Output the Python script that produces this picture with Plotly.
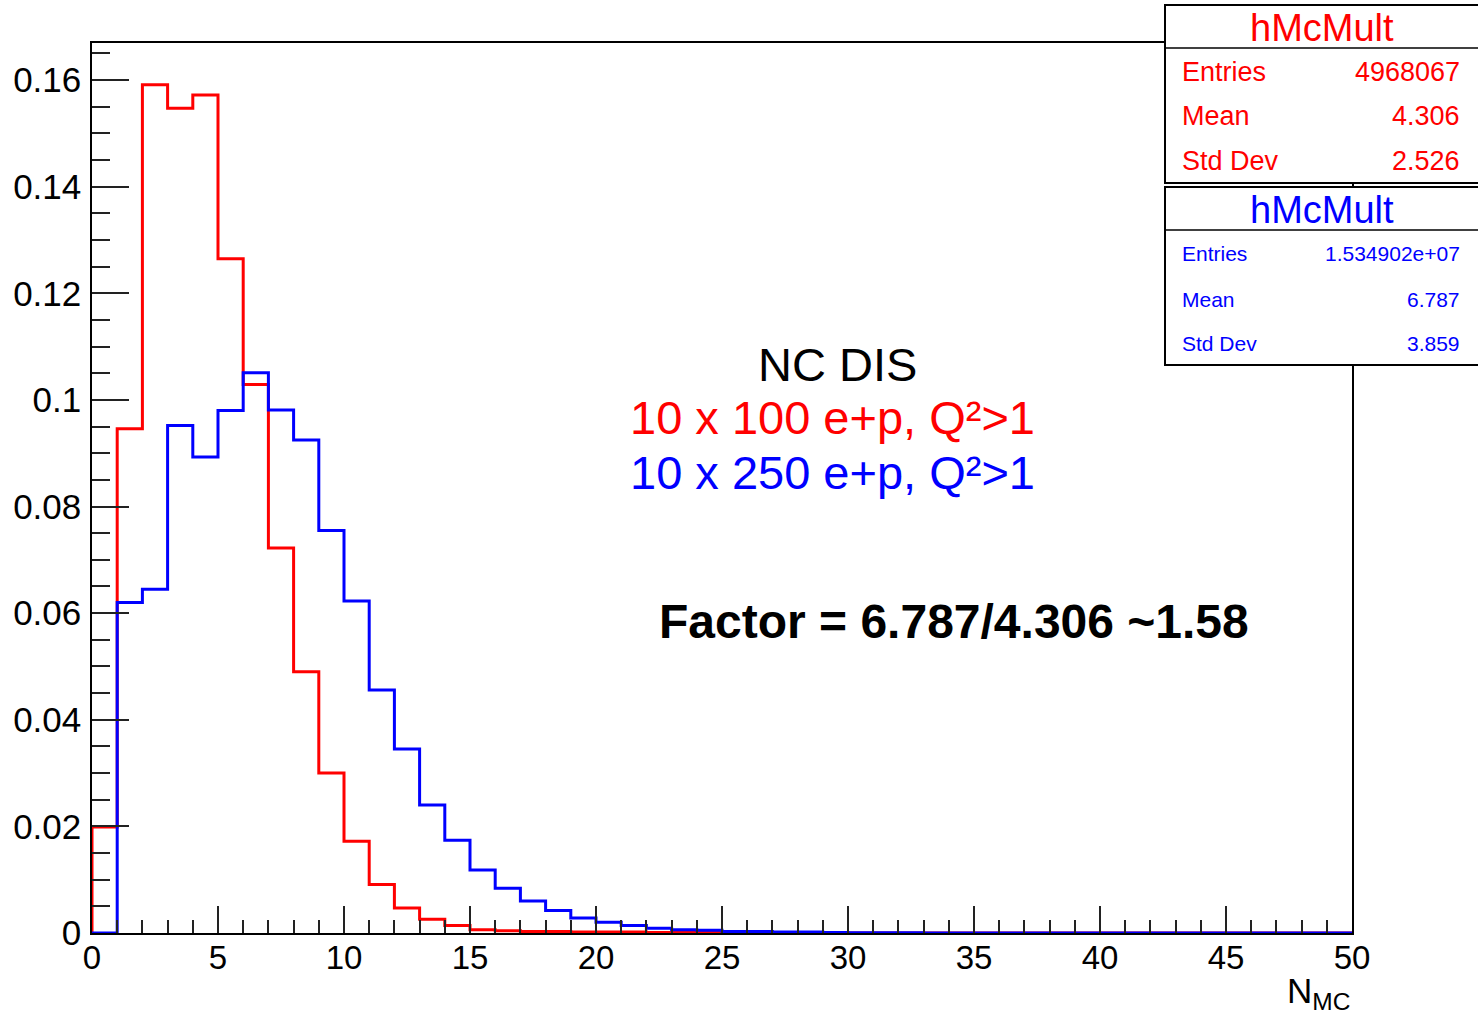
import numpy as np
import plotly.graph_objects as go

# ---------------- data ----------------
bin_edges = list(range(0, 51))  # N_MC bins of width 1, 0..50

red_10x100 = [0.0199, 0.0946, 0.1591, 0.1547, 0.1572, 0.1265, 0.1029, 0.0722, 0.0490, 0.0300,
              0.0172, 0.0091, 0.0047, 0.0026, 0.0014, 0.0006, 0.0004, 0.0003, 0.0003, 0.0002,
              0.0002, 0.0002, 0.0001, 0.0001, 0.0001, 0.0, 0.0, 0.0, 0.0, 0.0,
              0.0, 0.0, 0.0, 0.0, 0.0, 0.0, 0.0, 0.0, 0.0, 0.0,
              0.0, 0.0, 0.0, 0.0, 0.0, 0.0, 0.0, 0.0, 0.0, 0.0]

blue_10x250 = [0.0, 0.0620, 0.0645, 0.0952, 0.0893, 0.0980, 0.1051, 0.0981, 0.0925, 0.0755,
               0.0623, 0.0456, 0.0345, 0.0240, 0.0174, 0.0118, 0.0084, 0.0060, 0.0042, 0.0028,
               0.0020, 0.0014, 0.0009, 0.0006, 0.0005, 0.0003, 0.0003, 0.0002, 0.0002, 0.0001,
               0.00005, 0.00004, 0.00003, 0.00002, 0.00002, 0.00001, 0.00001, 0.0, 0.0, 0.0,
               0.0, 0.0, 0.0, 0.0, 0.0, 0.0, 0.0, 0.0, 0.0, 0.0]

y_tick_vals = [0, 0.02, 0.04, 0.06, 0.08, 0.1, 0.12, 0.14, 0.16]
y_tick_text = ["0", "0.02", "0.04", "0.06", "0.08", "0.1", "0.12", "0.14", "0.16"]
x_tick_vals = [0, 5, 10, 15, 20, 25, 30, 35, 40, 45, 50]
x_tick_text = ["0", "5", "10", "15", "20", "25", "30", "35", "40", "45", "50"]

stats_red = [("Entries", "4968067"), ("Mean", "4.306"), ("Std Dev", "2.526")]
stats_blue = [("Entries", "1.534902e+07"), ("Mean", "6.787"), ("Std Dev", "3.859")]
hist_name = "hMcMult"

# ---------------- layout geometry (page pixels) ----------------
PAGE_W, PAGE_H = 1478, 1016
W, H = PAGE_W, PAGE_H
L, R, T, B = 92, 1352, 43, 933  # plot frame in page pixels
FONT = "Liberation Sans, Arial, Helvetica, sans-serif"
RED = "#ff0000"
BLUE = "#0000ff"


def px(x):
    return (x - L) / (R - L)


def py(y):
    return (B - y) / (B - T)


def step_xy(values):
    edges = np.array(bin_edges, dtype=float)
    v = np.array(values, dtype=float)
    xs = np.concatenate([[edges[0]], edges, [edges[-1]]])
    ys = np.concatenate([[0.0], v, [v[-1], 0.0]])
    return xs, ys


fig = go.Figure()
for vals, col in [(red_10x100, RED), (blue_10x250, BLUE)]:
    xs, ys = step_xy(vals)
    fig.add_trace(go.Scatter(x=xs, y=ys, mode="lines", line=dict(color=col, width=3, shape="hv"),
                             showlegend=False, hoverinfo="skip"))

fig.update_layout(
    width=W, height=H, autosize=False,
    margin=dict(l=L, r=W - R, t=T, b=H - B, pad=0, autoexpand=False),
    paper_bgcolor="white", plot_bgcolor="white",
    font=dict(family=FONT, color="black"),
    showlegend=False,
)

fig.update_xaxes(
    range=[0, 50], showgrid=False, zeroline=False, automargin=False,
    showline=True, linecolor="black", linewidth=1.5, mirror=True,
    ticks="inside", ticklen=27, tickwidth=1.5, tickcolor="#222222",
    tickvals=x_tick_vals, ticktext=x_tick_text, ticklabelstandoff=-5,
    tickfont=dict(size=33, family=FONT, color="black"),
    minor=dict(ticks="inside", ticklen=13, tickwidth=1.5, tickcolor="#222222", dtick=1, showgrid=False),
)
fig.update_yaxes(
    range=[0, (B - T) / 5331.0], showgrid=False, zeroline=False, automargin=False,
    showline=True, linecolor="black", linewidth=1.5, mirror=True,
    ticks="inside", ticklen=37, tickwidth=1.5, tickcolor="#222222",
    tickvals=y_tick_vals, ticktext=y_tick_text, ticklabelstandoff=2,
    tickfont=dict(size=35, family=FONT, color="black"),
    minor=dict(ticks="inside", ticklen=18, tickwidth=1.5, tickcolor="#222222", dtick=0.005, showgrid=False),
)

shapes = []
annotations = []

# x-axis title
annotations.append(dict(x=px(1352), y=py(993), xref="paper", yref="paper", xanchor="right", yanchor="middle",
                        text="N<sub>MC</sub>", showarrow=False, font=dict(size=35, family=FONT, color="black")))

# central texts
annotations.append(dict(x=px(837), y=py(364), xref="paper", yref="paper", xanchor="center", yanchor="middle",
                        text="NC DIS", showarrow=False, font=dict(size=47, family=FONT, color="black")))
annotations.append(dict(x=px(832), y=py(417), xref="paper", yref="paper", xanchor="center", yanchor="middle",
                        text="10 x 100 e+p, Q²>1", showarrow=False,
                        font=dict(size=47, family=FONT, color=RED)))
annotations.append(dict(x=px(832), y=py(472), xref="paper", yref="paper", xanchor="center", yanchor="middle",
                        text="10 x 250 e+p, Q²>1", showarrow=False,
                        font=dict(size=47, family=FONT, color=BLUE)))
annotations.append(dict(x=px(954), y=py(621), xref="paper", yref="paper", xanchor="center", yanchor="middle",
                        text="<b>Factor = 6.787/4.306 ~1.58</b>", showarrow=False,
                        font=dict(size=48, family=FONT, color="black")))

# stats boxes
boxes = [
    dict(top=5, bottom=183, sep=48, title_y=28, rows_y=[72, 116, 161], stats=stats_red, col=RED, fs=27),
    dict(top=187, bottom=365, sep=230, title_y=210, rows_y=[253, 299, 343], stats=stats_blue, col=BLUE, fs=21),
]
for bx in boxes:
    shapes.append(dict(type="rect", xref="paper", yref="paper", x0=px(1165), x1=px(1482),
                       y0=py(bx["bottom"]), y1=py(bx["top"]), fillcolor="white",
                       line=dict(color="black", width=2), layer="above"))
    shapes.append(dict(type="line", xref="paper", yref="paper", x0=px(1165), x1=px(1482),
                       y0=py(bx["sep"]), y1=py(bx["sep"]), line=dict(color="black", width=1.5), layer="above"))
    annotations.append(dict(x=px(1322), y=py(bx["title_y"]), xref="paper", yref="paper",
                            xanchor="center", yanchor="middle", text=hist_name, showarrow=False,
                            font=dict(size=38, family=FONT, color=bx["col"])))
    for (lab, val), yy in zip(bx["stats"], bx["rows_y"]):
        annotations.append(dict(x=px(1180), y=py(yy), xref="paper", yref="paper", xanchor="left",
                                yanchor="middle", text=lab, showarrow=False,
                                font=dict(size=bx["fs"], family=FONT, color=bx["col"])))
        annotations.append(dict(x=px(1462), y=py(yy), xref="paper", yref="paper", xanchor="right",
                                yanchor="middle", text=val, showarrow=False,
                                font=dict(size=bx["fs"], family=FONT, color=bx["col"])))

fig.update_layout(shapes=shapes, annotations=annotations)
fig.write_html("out.html", config={"displayModeBar": False},
               post_script="document.body.style.margin='0';document.body.style.overflow='hidden';")
